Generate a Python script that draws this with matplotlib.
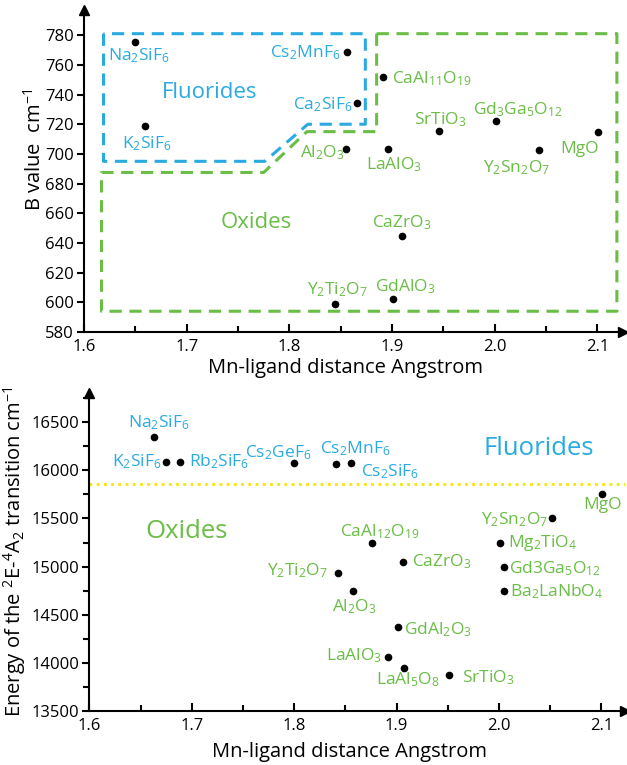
import matplotlib.pyplot as plt
from matplotlib.ticker import MultipleLocator

plt.rcParams['font.family'] = ['Open Sans', 'DejaVu Sans']
plt.rcParams['mathtext.fontset'] = 'custom'
plt.rcParams['mathtext.rm'] = 'Open Sans'
plt.rcParams['mathtext.it'] = 'Open Sans'
plt.rcParams['mathtext.default'] = 'regular'

BLUE = '#29abe2'
GREEN = '#6abd45'
YELLOW = '#f5e600'

# --- top panel: B value vs Mn-ligand distance ---
top_names = ['Na$_2$SiF$_6$', 'K$_2$SiF$_6$', 'Cs$_2$MnF$_6$', 'Ca$_2$SiF$_6$',
             'CaAl$_{11}$O$_{19}$', 'SrTiO$_3$', 'Gd$_3$Ga$_5$O$_{12}$', 'MgO',
             'Al$_2$O$_3$', 'LaAlO$_3$', 'Y$_2$Sn$_2$O$_7$', 'CaZrO$_3$',
             'Y$_2$Ti$_2$O$_7$', 'GdAlO$_3$']
top_group = ['F', 'F', 'F', 'F', 'O', 'O', 'O', 'O', 'O', 'O', 'O', 'O', 'O', 'O']
top_x = [1.650, 1.659, 1.856, 1.866, 1.891, 1.946, 2.001, 2.101,
         1.855, 1.896, 2.043, 1.910, 1.844, 1.901]
top_y = [775.5, 719, 769, 734.5, 752, 715.5, 722.5, 714.5,
         703.5, 703, 702.5, 645, 599, 602]
# label anchors
top_lx = [1.623, 1.637, 1.850, 1.861, 1.900, 1.921, 1.979, 2.064,
          1.810, 1.875, 1.989, 1.880, 1.817, 1.883]
top_ly = [766, 707, 768.5, 733, 751, 723, 730, 703,
          701, 692.5, 691, 653.5, 608.5, 610.5]
top_ha = ['left', 'left', 'right', 'right', 'left', 'left', 'left', 'left',
          'left', 'left', 'left', 'left', 'left', 'left']

# region outlines
blue_box_x = [1.619, 1.619, 1.776, 1.818, 1.874, 1.874, 1.619]
blue_box_y = [781, 695, 695, 720, 720, 781, 781]
green_box_x = [1.885, 2.119, 2.119, 1.617, 1.617, 1.775, 1.817, 1.885, 1.885]
green_box_y = [781, 781, 594, 594, 687.5, 687.5, 715, 715, 781]

# --- bottom panel: 2E-4A2 energy vs Mn-ligand distance ---
bot_names = ['Na$_2$SiF$_6$', 'K$_2$SiF$_6$', 'Rb$_2$SiF$_6$', 'Cs$_2$GeF$_6$',
             'Cs$_2$MnF$_6$', 'Cs$_2$SiF$_6$', 'MgO', 'Y$_2$Sn$_2$O$_7$',
             'CaAl$_{12}$O$_{19}$', 'Mg$_2$TiO$_4$', 'CaZrO$_3$', 'Gd3Ga$_5$O$_{12}$',
             'Y$_2$Ti$_2$O$_7$', 'Ba$_2$LaNbO$_4$', 'Al$_2$O$_3$', 'GdAl$_2$O$_3$',
             'LaAlO$_3$', 'LaAl$_5$O$_8$', 'SrTiO$_3$']
bot_group = ['F'] * 6 + ['O'] * 13
bot_x = [1.663, 1.675, 1.688, 1.800, 1.841, 1.855, 2.101, 2.052,
         1.876, 2.001, 1.906, 2.005, 1.843, 2.005, 1.857, 1.901,
         1.892, 1.907, 1.951]
bot_y = [16345, 16090, 16090, 16075, 16067, 16074, 15752, 15502,
         15248, 15248, 15044, 14998, 14936, 14746, 14746, 14374,
         14062, 13941, 13871]
bot_lx = [1.638, 1.6705, 1.697, 1.817, 1.825, 1.865, 2.1197, 2.0476,
          1.845, 2.009, 1.915, 2.010, 1.833, 2.011, 1.837, 1.907,
          1.8854, 1.880, 1.964]
bot_ly = [16500, 16088, 16088, 16181, 16223, 15984, 15640, 15484,
          15360, 15243, 15050, 14982, 14962, 14738, 14579, 14340,
          14069, 13819, 13840]
bot_ha = ['left', 'right', 'left', 'right', 'left', 'left', 'right', 'right',
          'left', 'left', 'left', 'left', 'right', 'left', 'left', 'left',
          'right', 'left', 'left']
split_energy = 15856

fig = plt.figure(figsize=(6.27, 7.65), dpi=100)
ax1 = fig.add_axes([0.134, 0.566, 0.8597, 0.421])
ax2 = fig.add_axes([0.1427, 0.0710, 0.8541, 0.4153])


def style_axes(ax):
    for s in ['top', 'right']:
        ax.spines[s].set_visible(False)
    for s in ['left', 'bottom']:
        ax.spines[s].set_linewidth(1.5)
    ax.xaxis.set_major_locator(MultipleLocator(0.1))
    ax.xaxis.set_minor_locator(MultipleLocator(0.05))
    ax.tick_params(axis='x', which='major', direction='in', length=6, width=1.5,
                   labelsize=12, pad=5)
    ax.tick_params(axis='x', which='minor', direction='in', length=4, width=1.5)
    ax.tick_params(axis='y', which='both', direction='out', width=1.5, labelsize=12)
    ax.tick_params(axis='y', which='major', length=5, pad=2.5)
    ax.tick_params(axis='y', which='minor', length=4)
    ax.xaxis.set_major_formatter(plt.FormatStrFormatter('%.1f'))
    # arrow heads
    ax.plot(1, 0, '>', color='k', ms=7, transform=ax.transAxes, clip_on=False)
    ax.plot(0, 1, '^', color='k', ms=7, transform=ax.transAxes, clip_on=False)


# top panel
ax1.plot(blue_box_x, blue_box_y, color=BLUE, lw=2.2, dashes=(4, 2.5))
ax1.plot(green_box_x, green_box_y, color=GREEN, lw=2.2, dashes=(4, 2.5))
ax1.plot(top_x, top_y, 'o', color='k', ms=4.5)
for n, g, lx, ly, ha in zip(top_names, top_group, top_lx, top_ly, top_ha):
    ax1.text(lx, ly, n, color=BLUE if g == 'F' else GREEN, fontsize=12.5,
             ha=ha, va='center')
ax1.text(1.7227, 741.5, 'Fluorides', color=BLUE, fontsize=16, ha='center', va='center')
ax1.text(1.768, 653.5, 'Oxides', color=GREEN, fontsize=16, ha='center', va='center')
ax1.set_xlim(1.6, 2.125)
ax1.set_ylim(580, 797)
ax1.yaxis.set_major_locator(MultipleLocator(20))
style_axes(ax1)
ax1.set_xlabel('Mn-ligand distance Angstrom', fontsize=14.5)
ax1.set_ylabel('B value  cm$^{-1}$', fontsize=14.5)
ax1.xaxis.set_label_coords(0.486, -0.081)
ax1.yaxis.set_label_coords(-0.0705, 0.565)

# bottom panel
ax2.axhline(split_energy, color=YELLOW, lw=2, dashes=(1, 1.6))
ax2.plot(bot_x, bot_y, 'o', color='k', ms=4.5)
for n, g, lx, ly, ha in zip(bot_names, bot_group, bot_lx, bot_ly, bot_ha):
    ax2.text(lx, ly, n, color=BLUE if g == 'F' else GREEN, fontsize=12.5,
             ha=ha, va='center')
ax2.text(2.039, 16230, 'Fluorides', color=BLUE, fontsize=18.5, ha='center', va='center')
ax2.text(1.695, 15363, 'Oxides', color=GREEN, fontsize=18.5, ha='center', va='center')
ax2.set_xlim(1.6, 2.123)
ax2.set_ylim(13500, 16806)
ax2.yaxis.set_major_locator(MultipleLocator(500))
ax2.yaxis.set_minor_locator(MultipleLocator(250))
style_axes(ax2)
ax2.set_xlabel('Mn-ligand distance Angstrom', fontsize=14.5)
ax2.set_ylabel('Energy of the $^2$E-$^4$A$_2$ transition cm$^{-1}$', fontsize=14.5)
ax2.xaxis.set_label_coords(0.486, -0.0985)
ax2.yaxis.set_label_coords(-0.115, 0.5)

fig.savefig('out.png', dpi=100)
